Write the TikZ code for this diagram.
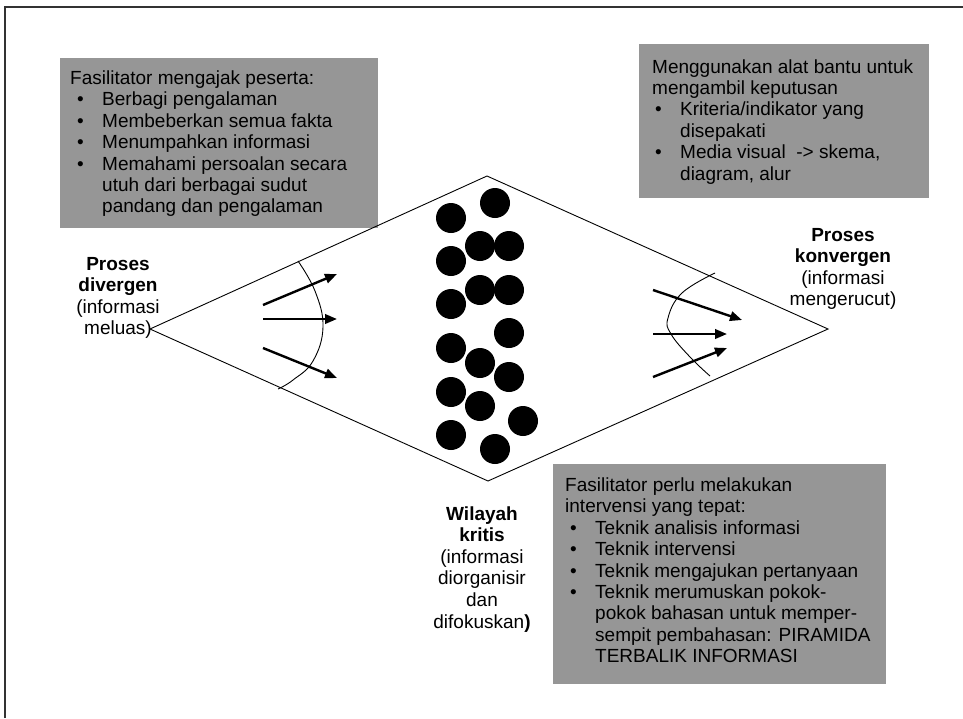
\documentclass[tikz,border=0pt]{standalone}
\usepackage{fontspec}
\setmainfont{Liberation Sans}
\usetikzlibrary{arrows.meta}
\definecolor{boxgray}{RGB}{150,150,150}
\definecolor{framegray}{RGB}{50,50,50}
\newcommand\bul[2]{\hspace*{#1pt}\makebox[#2pt][l]{\textbullet}}
\newcommand\ind[1]{\hspace*{#1pt}}
\tikzset{
  graybox/.style={fill=boxgray, draw=none, inner sep=0pt, anchor=north west},
  boxtext/.style={anchor=base west, align=left, inner sep=0pt, font=\fontsize{19}{21.4}\selectfont},
  lbl/.style={anchor=base, align=center, inner sep=0pt, font=\fontsize{19}{21.6}\selectfont},
  edgeline/.style={line width=0.9pt},
  flow/.style={line width=2.4pt, -{Triangle[length=12pt,width=9.5pt]}},
  dot/.style={circle, fill=black, minimum size=30pt, inner sep=0pt},
  curveline/.style={line width=0.9pt},
  frameline/.style={line width=1.6pt, draw=framegray}
}
\begin{document}
\begin{tikzpicture}[x=1pt,y=-1pt]
\useasboundingbox (0,0) rectangle (963,718);
% frame
\coordinate (F1) at (5,718);
\coordinate (F2) at (5,7);
\coordinate (F3) at (963,7);
\draw[frameline] (F1) -- (F2) -- (F3);

% gray boxes
\node[graybox, minimum width=318pt, minimum height=170pt] (boxA) at (60,58) {};
\node[graybox, minimum width=290pt, minimum height=154pt] (boxB) at (639,44) {};
\node[graybox, minimum width=333pt, minimum height=220pt] (boxC) at (553,464) {};

% (anchored at the baseline of the last line)
\node[boxtext] (tA) at (70,212.9) {Fasilitator mengajak peserta:\\
\bul{7}{25}Berbagi pengalaman\\
\bul{7}{25}Membeberkan semua fakta\\
\bul{7}{25}Menumpahkan informasi\\
\bul{7}{25}Memahami persoalan secara\\
\ind{32}utuh dari berbagai sudut\\
\ind{32}pandang dan pengalaman};

\node[boxtext] (tB) at (652,180) {Menggunakan alat bantu untuk\\
mengambil keputusan\\
\bul{3}{25}Kriteria/indikator yang\\
\ind{28}disepakati\\
\bul{3}{25}Media visual~ -> skema,\\
\ind{28}diagram, alur};

\node[boxtext] (tC) at (565,662.7) {Fasilitator perlu melakukan\\
intervensi yang tepat:\\
\bul{5}{25}Teknik analisis informasi\\
\bul{5}{25}Teknik intervensi\\
\bul{5}{25}Teknik mengajukan pertanyaan\\
\bul{5}{25}Teknik merumuskan pokok-\\
\ind{30}pokok bahasan untuk memper-\\
\ind{30}sempit pembahasan: PIRAMIDA\\
\ind{30}TERBALIK INFORMASI};

% diamond
\coordinate (L) at (150,329);
\coordinate (T) at (487,176);
\coordinate (R) at (828,329);
\coordinate (B) at (488,481);
\draw[edgeline] (L) -- (T) -- (R) -- (B) -- cycle;

% labels
\node[lbl] (lblL) at (118,334.8) {\textbf{Proses}\\\textbf{divergen}\\(informasi\\meluas)};
\node[lbl] (lblR) at (843,305.8) {\textbf{Proses}\\\textbf{konvergen}\\(informasi\\mengerucut)};
\node[lbl] (lblB) at (482,628) {\textbf{Wilayah}\\\textbf{kritis}\\(informasi\\diorganisir\\dan\\difokuskan\textbf{)}};

% left arrows
\coordinate (la1) at (263,305); \coordinate (lb1) at (337,274);
\coordinate (la2) at (263,319); \coordinate (lb2) at (337,319);
\coordinate (la3) at (263,348); \coordinate (lb3) at (337,378);
\draw[flow] (la1) -- (lb1);
\draw[flow] (la2) -- (lb2);
\draw[flow] (la3) -- (lb3);
\draw[curveline] plot[smooth, tension=0.7] coordinates {(298,261) (315,291) (323,327) (313,361) (293,380) (278,389)};

% right arrows
\coordinate (ra1) at (653,290); \coordinate (rb1) at (742,320);
\coordinate (ra2) at (653,334); \coordinate (rb2) at (727,334);
\coordinate (ra3) at (653,377); \coordinate (rb3) at (727,348);
\draw[flow] (ra1) -- (rb1);
\draw[flow] (ra2) -- (rb2);
\draw[flow] (ra3) -- (rb3);
\draw[curveline] plot[smooth, tension=0.7] coordinates {(715,273) (682,293) (668,318) (671,334) (690,357) (710,376)};

% dots
\foreach \n/\px/\py in {1/451/218, 2/495/203, 3/480/246, 4/509/246, 5/451/261,
  6/480/290, 7/509/290, 8/451/304, 9/509/333, 10/451/348, 11/480/363,
  12/509/377, 13/451/392, 14/480/406, 15/523/421, 16/451/435, 17/495/449}
  \node[dot] (d\n) at (\px,\py) {};
\end{tikzpicture}
\end{document}
